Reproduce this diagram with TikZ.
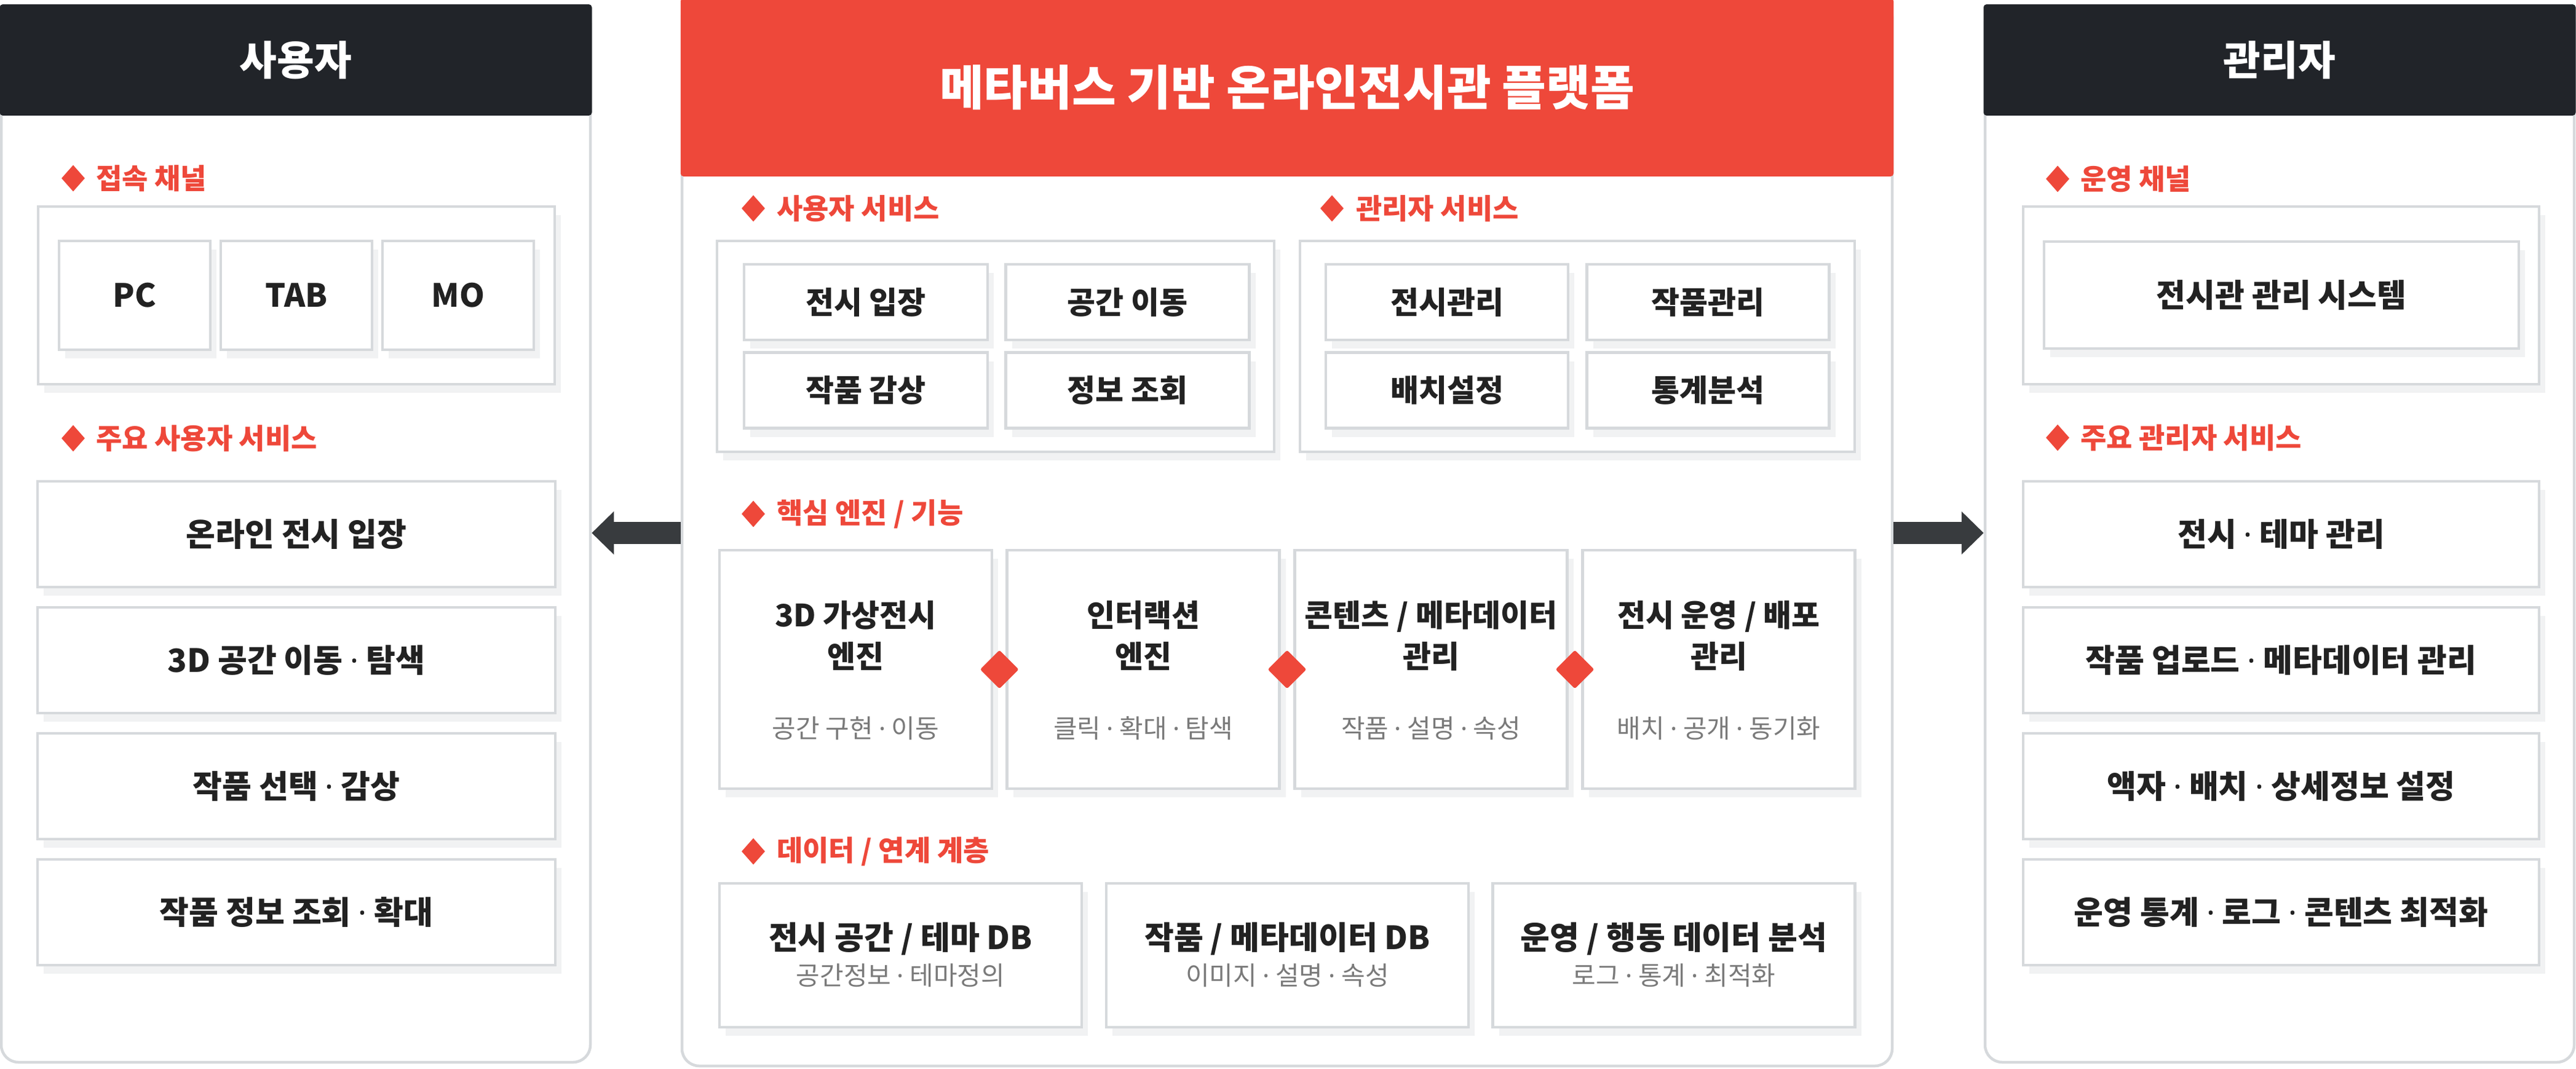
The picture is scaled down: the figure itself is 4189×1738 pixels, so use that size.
\documentclass[tikz,border=0pt]{standalone}
\usepackage{fontspec}
\setmainfont{Noto Sans CJK KR}
\newfontfamily\mdfont{Noto Sans}
\newcommand{\md}{{\mdfont ·}}
\usetikzlibrary{shapes.geometric,arrows.meta,shadows,calc}
\definecolor{dark}{HTML}{212429}
\definecolor{accent}{HTML}{EE483A}
\definecolor{bord}{HTML}{D6D9DC}
\definecolor{ink}{HTML}{222222}
\definecolor{subc}{HTML}{7A7A7A}
\definecolor{arrowc}{HTML}{383B3E}
\definecolor{shade}{HTML}{F1F2F3}
\newcommand{\Fhdr}{\fontsize{66pt}{70pt}\selectfont\bfseries}
\newcommand{\Ftitle}{\fontsize{78pt}{82pt}\selectfont\bfseries}
\newcommand{\Fhead}{\fontsize{46pt}{50pt}\selectfont\bfseries}
\newcommand{\Fcard}{\fontsize{52pt}{56pt}\selectfont\bfseries}
\newcommand{\Fsvc}{\fontsize{50pt}{54pt}\selectfont\bfseries}
\newcommand{\Feng}{\fontsize{50pt}{67pt}\selectfont\bfseries}
\newcommand{\Fsub}{\fontsize{42pt}{46pt}\selectfont}
\begin{document}
\begin{tikzpicture}[x=1pt,y=-1pt,
  panel/.style={draw=bord, line width=4.5pt, fill=white, rounded corners=28pt, inner sep=0pt},
  hdr/.style={fill=dark, rounded corners=5pt, text=white, font=\Fhdr, inner sep=0pt},
  card/.style={draw=bord, line width=4.5pt, fill=white, inner sep=0pt, text=ink, align=center,
    drop shadow={shadow xshift=10pt, shadow yshift=-14pt, fill=shade, opacity=1}},
  hdiam/.style={diamond, fill=accent, inner sep=0pt, minimum width=38pt, minimum height=43pt},
  heading/.style={anchor=west, text=accent, font=\Fhead, inner sep=0pt},
  ediam/.style={diamond, fill=accent, inner sep=0pt, minimum width=63pt, minimum height=63pt, rounded corners=3pt},
  etitle/.style={text=ink, font=\Feng, align=center, inner sep=0pt},
  subt/.style={text=subc, font=\Fsub, align=center, inner sep=0pt},
  dtitle/.style={text=ink, font=\Fcard, align=center, inner sep=0pt},
  bigarrow/.style={draw=arrowc, line width=36pt, -{Triangle[length=36pt, width=68pt]}}
]
\useasboundingbox (0,0) rectangle (4189,1738);

% ---------------- left panel ----------------
\node[panel, minimum width=958pt, minimum height=1718pt] (lp) at (481,869) {};
\node[hdr, minimum width=963pt, minimum height=181pt] (lph) at (481,97.5) {사용자};
\node[hdiam] (lpd1) at (119,290) {};
\node[heading] (lpt1) at (156,290) {접속 채널};
\node[card, minimum width=840pt, minimum height=289pt] (lch) at (482,480.5) {};
\node[card, font=\Fcard, minimum width=246pt, minimum height=177pt] (pc) at (219,480.5) {PC};
\node[card, font=\Fcard, minimum width=246pt, minimum height=177pt] (tab) at (482,480.5) {TAB};
\node[card, font=\Fcard, minimum width=246pt, minimum height=177pt] (mo) at (745,480.5) {MO};
\node[hdiam] (lpd2) at (119,713) {};
\node[heading] (lpt2) at (156,713) {주요 사용자 서비스};
\node[card, font=\Fcard, minimum width=842pt, minimum height=172pt] (u1) at (482,869) {온라인 전시 입장};
\node[card, font=\Fcard, minimum width=842pt, minimum height=172pt] (u2) at (482,1074) {3D 공간 이동 \md{} 탐색};
\node[card, font=\Fcard, minimum width=842pt, minimum height=172pt] (u3) at (482,1279) {작품 선택 \md{} 감상};
\node[card, font=\Fcard, minimum width=842pt, minimum height=172pt] (u4) at (482,1484) {작품 정보 조회 \md{} 확대};

% ---------------- right panel ----------------
\node[panel, minimum width=958pt, minimum height=1718pt] (rp) at (3707,869) {};
\node[hdr, minimum width=963pt, minimum height=181pt] (rph) at (3707,97.5) {관리자};
\node[hdiam] (rpd1) at (3346,291) {};
\node[heading] (rpt1) at (3383,291) {운영 채널};
\node[card, minimum width=839pt, minimum height=289pt] (rch) at (3709.5,480.5) {};
\node[card, font=\Fcard, minimum width=772pt, minimum height=174pt] (cms) at (3710,480) {전시관 관리 시스템};
\node[hdiam] (rpd2) at (3346,712) {};
\node[heading] (rpt2) at (3383,712) {주요 관리자 서비스};
\node[card, font=\Fcard, minimum width=839pt, minimum height=172pt] (a1) at (3709.5,869) {전시 \md{} 테마 관리};
\node[card, font=\Fcard, minimum width=839pt, minimum height=172pt] (a2) at (3709.5,1074) {작품 업로드 \md{} 메타데이터 관리};
\node[card, font=\Fcard, minimum width=839pt, minimum height=172pt] (a3) at (3709.5,1279) {액자 \md{} 배치 \md{} 상세정보 설정};
\node[card, font=\Fcard, minimum width=839pt, minimum height=172pt] (a4) at (3709.5,1484) {운영 통계 \md{} 로그 \md{} 콘텐츠 최적화};

% ---------------- center panel ----------------
\node[panel, minimum width=1968pt, minimum height=1734pt] (cp) at (2093,867) {};
\node[hdr, fill=accent, font=\Ftitle, minimum width=1972.5pt, minimum height=290pt] (cph) at (2093,142) {메타버스 기반 온라인전시관 플랫폼};

\node[hdiam] (cd1) at (1225,339) {};
\node[heading] (ct1) at (1263,339) {사용자 서비스};
\node[hdiam] (cd2) at (2166,339) {};
\node[heading] (ct2) at (2205,339) {관리자 서비스};

\node[card, minimum width=906pt, minimum height=343pt] (us) at (1619,563.5) {};
\node[card, font=\Fsvc, minimum width=396pt, minimum height=123pt] (s1) at (1408,491.5) {전시 입장};
\node[card, font=\Fsvc, minimum width=396pt, minimum height=123pt] (s2) at (1833.5,491.5) {공간 이동};
\node[card, font=\Fsvc, minimum width=396pt, minimum height=123pt] (s3) at (1408,635) {작품 감상};
\node[card, font=\Fsvc, minimum width=396pt, minimum height=123pt] (s4) at (1833.5,635) {정보 조회};

\node[card, minimum width=902pt, minimum height=343pt] (as) at (2565,563.5) {};
\node[card, font=\Fsvc, minimum width=394pt, minimum height=123pt] (m1) at (2353,491.5) {전시관리};
\node[card, font=\Fsvc, minimum width=394pt, minimum height=123pt] (m2) at (2777.5,491.5) {작품관리};
\node[card, font=\Fsvc, minimum width=394pt, minimum height=123pt] (m3) at (2353,635) {배치설정};
\node[card, font=\Fsvc, minimum width=394pt, minimum height=123pt] (m4) at (2777.5,635) {통계분석};

\node[hdiam] (cd3) at (1225,836) {};
\node[heading] (ct3) at (1263,836) {핵심 엔진 / 기능};

\node[card, minimum width=443pt, minimum height=388pt] (e1) at (1391.5,1089) {};
\node[card, minimum width=443pt, minimum height=388pt] (e2) at (1859,1089) {};
\node[card, minimum width=443pt, minimum height=388pt] (e3) at (2327,1089) {};
\node[card, minimum width=443pt, minimum height=388pt] (e4) at (2795,1089) {};
\node[etitle] (e1t) at ($(e1)+(0,-55)$) {3D 가상전시\\엔진};
\node[etitle] (e2t) at ($(e2)+(0,-55)$) {인터랙션\\엔진};
\node[etitle] (e3t) at ($(e3)+(0,-55)$) {콘텐츠 / 메타데이터\\관리};
\node[etitle] (e4t) at ($(e4)+(0,-55)$) {전시 운영 / 배포\\관리};
\node[subt] (e1s) at ($(e1)+(0,96)$) {공간 구현 \md{} 이동};
\node[subt] (e2s) at ($(e2)+(0,96)$) {클릭 \md{} 확대 \md{} 탐색};
\node[subt] (e3s) at ($(e3)+(0,96)$) {작품 \md{} 설명 \md{} 속성};
\node[subt] (e4s) at ($(e4)+(0,96)$) {배치 \md{} 공개 \md{} 동기화};
\node[ediam] (j1) at ($(e1.east)!0.5!(e2.west)$) {};
\node[ediam] (j2) at ($(e2.east)!0.5!(e3.west)$) {};
\node[ediam] (j3) at ($(e3.east)!0.5!(e4.west)$) {};

\node[hdiam] (cd4) at (1225,1385) {};
\node[heading] (ct4) at (1263,1385) {데이터 / 연계 계층};

\node[card, minimum width=589pt, minimum height=234pt] (d1) at (1464.5,1554) {};
\node[card, minimum width=589pt, minimum height=234pt] (d2) at (2093.5,1554) {};
\node[card, minimum width=589pt, minimum height=234pt] (d3) at (2722,1554) {};
\node[dtitle] (d1t) at ($(d1)+(0,-27)$) {전시 공간 / 테마 DB};
\node[dtitle] (d2t) at ($(d2)+(0,-27)$) {작품 / 메타데이터 DB};
\node[dtitle] (d3t) at ($(d3)+(0,-27)$) {운영 / 행동 데이터 분석};
\node[subt] (d1s) at ($(d1)+(0,33)$) {공간정보 \md{} 테마정의};
\node[subt] (d2s) at ($(d2)+(0,33)$) {이미지 \md{} 설명 \md{} 속성};
\node[subt] (d3s) at ($(d3)+(0,33)$) {로그 \md{} 통계 \md{} 최적화};

% ---------------- arrows ----------------
\draw[bigarrow] (cp.west) -- (lp.east |- cp.west);
\draw[bigarrow] (cp.east) -- (rp.west |- cp.east);
\end{tikzpicture}
\end{document}
